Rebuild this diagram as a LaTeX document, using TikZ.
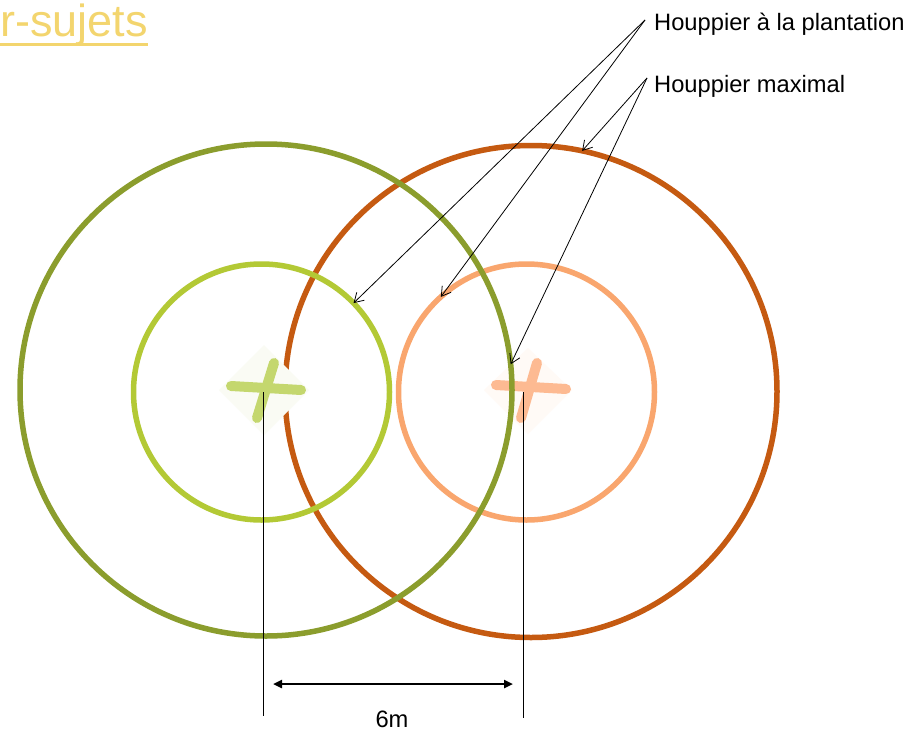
\documentclass[tikz,border=0pt]{standalone}
\usepackage{fontspec}
\setmainfont{Liberation Sans}
\usetikzlibrary{arrows.meta}
\definecolor{olivebig}{HTML}{8B9D2D}
\definecolor{greensmall}{HTML}{B3C935}
\definecolor{orangebig}{HTML}{C55A11}
\definecolor{orangesmall}{HTML}{F9A66E}
\definecolor{titlegold}{HTML}{F3D56E}
\definecolor{greencross}{HTML}{C4D76E}
\definecolor{orangecross}{HTML}{FDBA92}
\definecolor{greenback}{HTML}{FAFBF4}
\definecolor{orangeback}{HTML}{FFFAF6}
\tikzset{
  ring/.style={circle, draw=#1, line width=5.5pt, inner sep=0pt, outer sep=0pt},
  bigring/.style={ring=#1, minimum size=492pt},
  smallring/.style={ring=#1, minimum size=256pt},
  lbl/.style={font=\fontsize{23.7}{26}\selectfont, inner sep=0pt},
  pointer/.style={line width=0.8pt, -{Straight Barb[length=9pt,width=11pt]}},
  guide/.style={line width=1pt},
  dim/.style={line width=2.6pt, {Triangle[length=9pt,width=8pt]}-{Triangle[length=9pt,width=8pt]}},
  brush/.style={line width=10pt, line cap=round, draw=#1}
}
\begin{document}
\begin{tikzpicture}[x=1pt,y=-1pt]
\clip (0,0) rectangle (911,734);
\fill[white] (0,0) rectangle (911,734);
% title
\node[anchor=base east, inner sep=0pt, text=titlegold, font=\fontsize{45}{50}\selectfont] (title) at (148,36) {r-sujets};
\draw[titlegold, line width=3pt] (0,44) -- (148,44);
% big orange circle
\node[bigring=orangebig] (rbig) at (531,391.5) {};
% left cross
\fill[greenback] (264,345) -- (309,390) -- (264,435) -- (219,390) -- cycle;
\draw[brush=greencross] (231,386) -- (301,390);
\draw[brush=greencross] (274,363) -- (257,418);
\coordinate (lc) at (263,392);
% small circles
\node[smallring=greensmall] (lsmall) at (261.5,392) {};
\node[smallring=orangesmall] (rsmall) at (526.5,392) {};
% right cross
\fill[orangeback] (528,348) -- (572,390) -- (528,434) -- (484,390) -- cycle;
\draw[brush=orangecross] (496,385) -- (566,389);
\draw[brush=orangecross] (537,363) -- (521,418);
\coordinate (rc) at (523.5,392);
% big olive circle
\node[bigring=olivebig] (lbig) at (266,390) {};
% guides
\coordinate (lb) at (263,716);
\coordinate (rb) at (523.5,718);
\draw[guide] (lc) -- (lb);
\draw[guide] (rc) -- (rb);
\coordinate (dl) at (273,684);
\coordinate (dr) at (513,684);
\draw[dim] (dl) -- (dr);
\node[lbl, anchor=base] (six) at (392,727) {6m};
% labels
\node[lbl, anchor=base west] (lab1) at (654,30) {Houppier à la plantation};
\node[lbl, anchor=base west] (lab2) at (654,92) {Houppier maximal};
\coordinate (s1) at (645,20);
\coordinate (s2) at (647,78);
\draw[pointer] (s1) -- (lsmall.44.5);
\draw[pointer] (s1) -- (rsmall.132);
\draw[pointer] (s2) -- (rbig.78.6);
\draw[pointer] (s2) -- (lbig.6.8);
\end{tikzpicture}
\end{document}
